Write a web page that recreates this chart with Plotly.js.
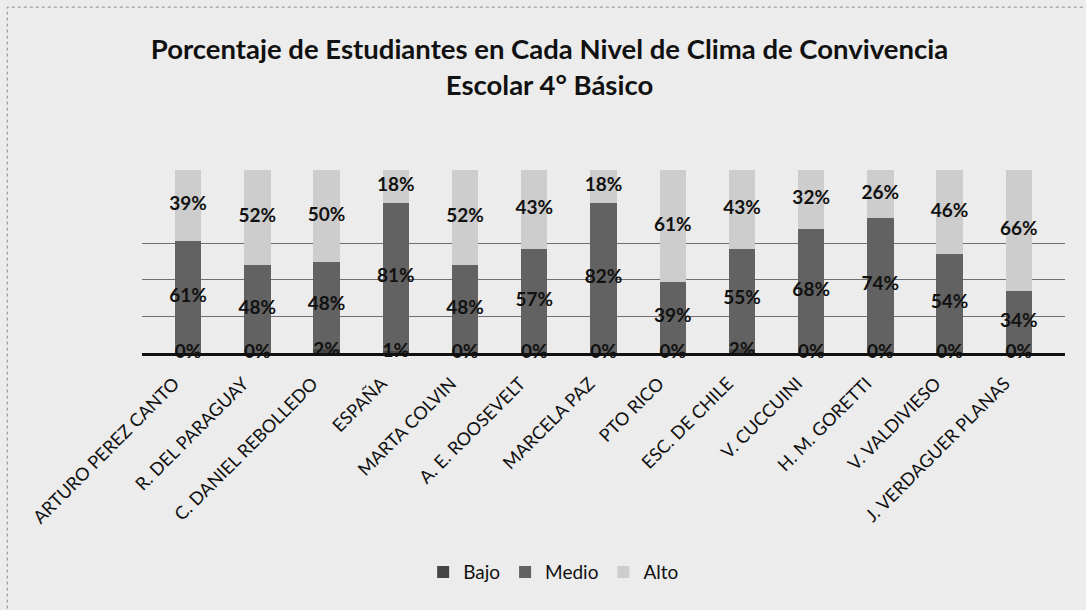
<!DOCTYPE html>
<html>
<head>
<meta charset="utf-8">
<script src="https://cdn.plot.ly/plotly-3.0.1.min.js"></script>
<style>html,body{margin:0;padding:0;background:#ececec;}#chart{width:1086px;height:610px;}</style>
</head>
<body>
<div id="chart"></div>
<script>
const categories = ["ARTURO PEREZ CANTO","R. DEL PARAGUAY","C. DANIEL REBOLLEDO","ESPAÑA","MARTA COLVIN","A. E. ROOSEVELT","MARCELA PAZ","PTO RICO","ESC. DE CHILE","V. CUCCUINI","H. M. GORETTI","V. VALDIVIESO","J. VERDAGUER PLANAS"];
const bajo  = [0, 0, 2, 1, 0, 0, 0, 0, 2, 0, 0, 0, 0];
const medio = [61, 48, 48, 81, 48, 57, 82, 39, 55, 68, 74, 54, 34];
const alto  = [39, 52, 50, 18, 52, 43, 18, 61, 43, 32, 26, 46, 66];

const FONT = "Lato, 'Open Sans', sans-serif";
const labelFont = {family: FONT, size: 19, color: "#111", weight: "bold"};
const pct = a => a.map(v => "<b>" + v + "%</b>");

const yBajo  = bajo.map(v => v / 2);
const yMedio = bajo.map((b, i) => b + medio[i] / 2);
const yAlto  = bajo.map((b, i) => b + medio[i] + alto[i] / 2);

const traces = [
  {type: "bar", name: "Bajo", x: categories, y: bajo, marker: {color: "#454545"}, hoverinfo: "skip"},
  {type: "bar", name: "Medio", x: categories, y: medio, marker: {color: "#626262"}, hoverinfo: "skip"},
  {type: "bar", name: "Alto", x: categories, y: alto, marker: {color: "#cdcdcd"}, hoverinfo: "skip"},
  {type: "scatter", mode: "text", x: categories, y: yBajo, text: pct(bajo), textfont: labelFont, showlegend: false, cliponaxis: false, hoverinfo: "skip"},
  {type: "scatter", mode: "text", x: categories, y: yMedio, text: pct(medio), textfont: labelFont, showlegend: false, cliponaxis: false, hoverinfo: "skip"},
  {type: "scatter", mode: "text", x: categories, y: yAlto, text: pct(alto), textfont: labelFont, showlegend: false, cliponaxis: false, hoverinfo: "skip"}
];

const layout = {
  width: 1086, height: 610,
  paper_bgcolor: "#ececec", plot_bgcolor: "#ececec",
  margin: {l: 142, r: 21, t: 170, b: 257},
  barmode: "stack",
  bargap: 0.62,
  title: {
    text: "<b>Porcentaje de Estudiantes en Cada Nivel de Clima de Convivencia<br>Escolar 4° Básico</b>",
    font: {family: FONT, size: 27.5, color: "#111"},
    x: 0.506, xanchor: "center", yref: "container", y: 0.9025, yanchor: "top"
  },
  xaxis: {
    type: "category",
    tickangle: -45,
    tickfont: {family: FONT, size: 18, color: "#111"},
    showgrid: false, zeroline: false,
    showline: true, linecolor: "#111", linewidth: 3,
    ticks: "", ticklabelstandoff: 10, ticklabelshift: -14
  },
  yaxis: {
    range: [0, 100],
    showticklabels: false,
    showgrid: true, gridcolor: "#6e6e6e", gridwidth: 1,
    tickmode: "array", tickvals: [20, 40, 60],
    zeroline: false, showline: false, ticks: ""
  },
  legend: {
    orientation: "h", x: 0.446, xanchor: "center", y: -1.197, yanchor: "middle",
    font: {family: FONT, size: 19, color: "#111"},
    bgcolor: "rgba(0,0,0,0)", traceorder: "normal", itemwidth: 30
  },
  shapes: [
    {type: "rect", xref: "paper", yref: "paper", x0: -0.146, x1: 1.03, y0: -1.6, y1: 1.89,
     line: {color: "#888", width: 1, dash: "dot"}}
  ],
  showlegend: true
};

Plotly.newPlot("chart", traces, layout, {displayModeBar: false, staticPlot: true});
</script>
</body>
</html>
